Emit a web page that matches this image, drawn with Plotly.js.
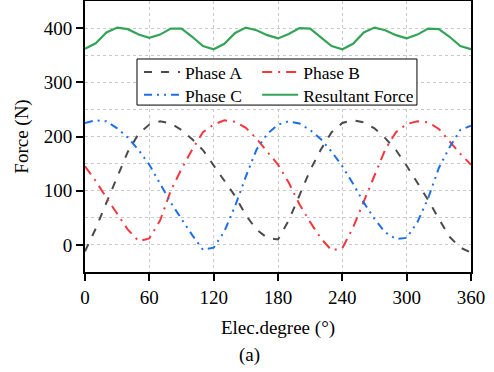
<!DOCTYPE html>
<html>
<head>
<meta charset="utf-8">
<script src="https://cdn.plot.ly/plotly-3.0.1.min.js"></script>
<style>html,body{margin:0;padding:0;background:#fff;}#chart{width:494px;height:372px;}</style>
</head>
<body>
<div id="chart"></div>
<script>
const degrees = [0,10,20,30,40,50,60,70,80,90,100,110,120,130,140,150,160,170,180,190,200,210,220,230,240,250,260,270,280,290,300,310,320,330,340,350,360];
const phaseA = [-12,30,78,125,172,205,222,228,224,212,195,175,147,119,90,55,28,13,10,45,92,138,176,208,225,230,226,215,197,175,146,114,83,48,15,-5,-14];
const phaseB = [145,118,87,58,28,7,12,45,100,140,176,208,222,230,227,216,196,172,148,115,75,42,12,-10,-6,32,80,130,176,208,223,228,226,214,190,168,148];
const phaseC = [225,230,228,215,198,175,148,112,78,48,18,-9,-5,25,72,126,176,205,222,228,224,212,195,172,145,113,78,48,23,11,13,42,86,142,180,212,220];
const resultant = [362,372,392,401,398,388,382,388,399,399,384,367,361,371,391,401,396,387,381,389,400,399,383,367,361,371,392,401,396,387,381,388,399,398,384,367,361];
const seriesNames = ['Phase A','Phase B','Phase C','Resultant Force'];
const xTicks = [0,60,120,180,240,300,360];
const yTicks = [0,100,200,300,400];

const font = 'Liberation Serif, Times New Roman, serif';
const traces = [
  {x: degrees, y: phaseA, name: seriesNames[0], legend: 'legend', mode: 'lines', line: {color: '#4a4a4a', width: 2, dash: '8px,9px'}},
  {x: degrees, y: phaseB, name: seriesNames[1], legend: 'legend2', mode: 'lines', line: {color: '#f2383d', width: 2, dash: '10px,6px,2px,6px'}},
  {x: degrees, y: phaseC, name: seriesNames[2], legend: 'legend3', mode: 'lines', line: {color: '#1e6fe6', width: 2, dash: '8px,5px,2px,5px,2px,5px'}},
  {x: degrees, y: resultant, name: seriesNames[3], legend: 'legend4', mode: 'lines', line: {color: '#33a457', width: 2.2}}
];
const axisCommon = {
  showline: true, linecolor: '#000', linewidth: 2, mirror: true,
  ticks: 'outside', ticklen: 7, tickwidth: 2, tickcolor: '#000',
  showgrid: true, gridcolor: '#c8c8c8', griddash: 'dot', gridwidth: 1,
  zeroline: false, tickfont: {family: font, size: 19, color: '#000'}
};
const legendCommon = {
  orientation: 'v', xanchor: 'left', yanchor: 'top',
  bgcolor: 'rgba(0,0,0,0)', borderwidth: 0, itemwidth: 36,
  font: {family: font, size: 17.5, color: '#000'}, tracegroupgap: 0
};
const col1 = 0.1399, col2 = 0.446, row1 = 0.804, row2 = 0.72;
const layout = {
  width: 494, height: 372,
  margin: {l: 85, r: 23, t: 1, b: 100},
  paper_bgcolor: '#fff', plot_bgcolor: '#fff',
  font: {family: font, color: '#000'},
  showlegend: true,
  legend: Object.assign({}, legendCommon, {x: col1, y: row1}),
  legend2: Object.assign({}, legendCommon, {x: col2, y: row1}),
  legend3: Object.assign({}, legendCommon, {x: col1, y: row2}),
  legend4: Object.assign({}, legendCommon, {x: col2, y: row2}),
  shapes: [{
    type: 'rect', xref: 'paper', yref: 'paper', x0: 0.1347, x1: 0.860, y0: 0.616, y1: 0.786,
    line: {color: '#000', width: 1}, fillcolor: '#fff', layer: 'above'
  }],
  xaxis: Object.assign({}, axisCommon, {
    range: [0, 360], tickvals: xTicks, ticktext: xTicks.map(String),
    title: {text: 'Elec.degree (°)', font: {family: font, size: 19, color: '#000'}, standoff: 14}
  }),
  yaxis: Object.assign({}, axisCommon, {
    range: [-50, 450], tickvals: yTicks, ticktext: yTicks.map(String),
    minor: {dtick: 50, tick0: 0, showgrid: true, gridcolor: '#c8c8c8', griddash: 'dot', gridwidth: 1, ticks: ''},
    title: {text: 'Force (N)', font: {family: font, size: 19, color: '#000'}, standoff: 10}
  }),
  annotations: [{
    text: '(a)', xref: 'paper', yref: 'paper', x: 0.427, y: -0.306, xanchor: 'center', yanchor: 'middle',
    showarrow: false, font: {family: font, size: 19, color: '#000'}
  }]
};
Plotly.newPlot('chart', traces, layout, {displayModeBar: false, staticPlot: true});
</script>
</body>
</html>
